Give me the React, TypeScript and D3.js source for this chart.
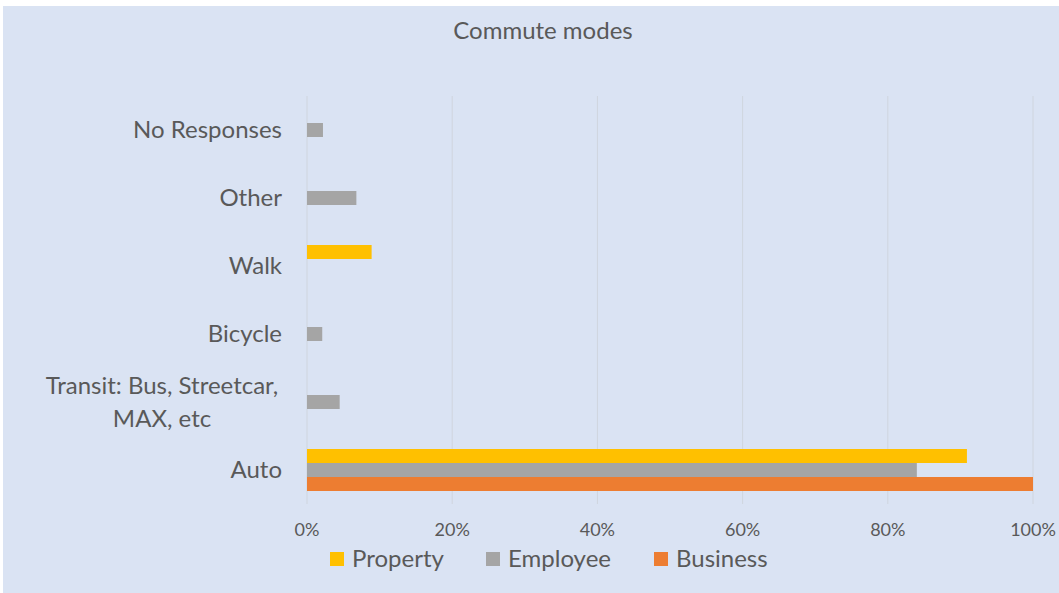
import React from "react";
import * as d3 from "d3";

const categories = ["Auto", "Transit: Bus, Streetcar, MAX, etc", "Bicycle", "Walk", "Other", "No Responses"];
const categoryLines = [["Auto"], ["Transit: Bus, Streetcar,", "MAX, etc"], ["Bicycle"], ["Walk"], ["Other"], ["No Responses"]];
const seriesNames = ["Property", "Employee", "Business"];
const property = [90.9, 0, 0, 8.9, 0, 0];
const employee = [84.0, 4.5, 2.1, 0, 6.8, 2.2];
const business = [100, 0, 0, 0, 0, 0];
const xTicks = [0, 20, 40, 60, 80, 100];
const colors = ["#FFC000", "#A5A5A5", "#ED7D31"];

const W = 1059;
const H = 593;
const FONT = "Lato, 'Liberation Sans', sans-serif";
const TEXT = "#595959";

export default function App() {
  const x = d3.scaleLinear().domain([0, 100]).range([307, 1033]);
  const y = d3.scaleBand<string>().domain([...categories].reverse()).range([96, 504]);
  const inner = d3.scaleBand<string>().domain(seriesNames).range([-21, 21]);
  const series = [property, employee, business];

  const legendItems = [
    { name: "Property", sx: 330, tx: 352 },
    { name: "Employee", sx: 486, tx: 508 },
    { name: "Business", sx: 654, tx: 676 },
  ];

  return (
    <svg width={W} height={H} style={{ position: "absolute", left: 0, top: 0 }}>
      <rect x={0} y={0} width={W} height={H} fill="#ffffff" />
      <rect x={3} y={6} width={W - 3} height={H - 6} fill="#DAE3F3" />
      <text x={543} y={39} textAnchor="middle" fontFamily={FONT} fontSize={24} fill={TEXT}>
        Commute modes
      </text>
      {xTicks.map((t) => (
        <line key={t} x1={x(t)} x2={x(t)} y1={96} y2={504} stroke="#CFD5DE" strokeWidth={1} />
      ))}
      {series.map((vals, si) =>
        categories.map((c, ci) => {
          const v = vals[ci];
          if (!v) return null;
          const cy = (y(c) as number) + y.bandwidth() / 2;
          return (
            <rect
              key={si + "-" + ci}
              x={x(0)}
              y={cy + (inner(seriesNames[si]) as number)}
              width={x(v) - x(0)}
              height={inner.bandwidth()}
              fill={colors[si]}
            />
          );
        })
      )}
      {categories.map((c, ci) => {
        const cy = (y(c) as number) + y.bandwidth() / 2;
        const lines = categoryLines[ci];
        if (lines.length === 1) {
          return (
            <text key={c} x={282} y={cy + 8} textAnchor="end" fontFamily={FONT} fontSize={24} fill={TEXT}>
              {lines[0]}
            </text>
          );
        }
        return (
          <text key={c} x={162} textAnchor="middle" fontFamily={FONT} fontSize={24} fill={TEXT}>
            {lines.map((l, li) => (
              <tspan key={li} x={162} y={cy - 8 + li * 33}>
                {l}
              </tspan>
            ))}
          </text>
        );
      })}
      {xTicks.map((t) => (
        <text key={"l" + t} x={x(t)} y={536} textAnchor="middle" fontFamily={FONT} fontSize={18} fill={TEXT}>
          {t + "%"}
        </text>
      ))}
      {legendItems.map((it, i) => (
        <g key={it.name}>
          <rect x={it.sx} y={552} width={14} height={14} fill={colors[i]} />
          <text x={it.tx} y={567} fontFamily={FONT} fontSize={24} fill={TEXT}>
            {it.name}
          </text>
        </g>
      ))}
    </svg>
  );
}
